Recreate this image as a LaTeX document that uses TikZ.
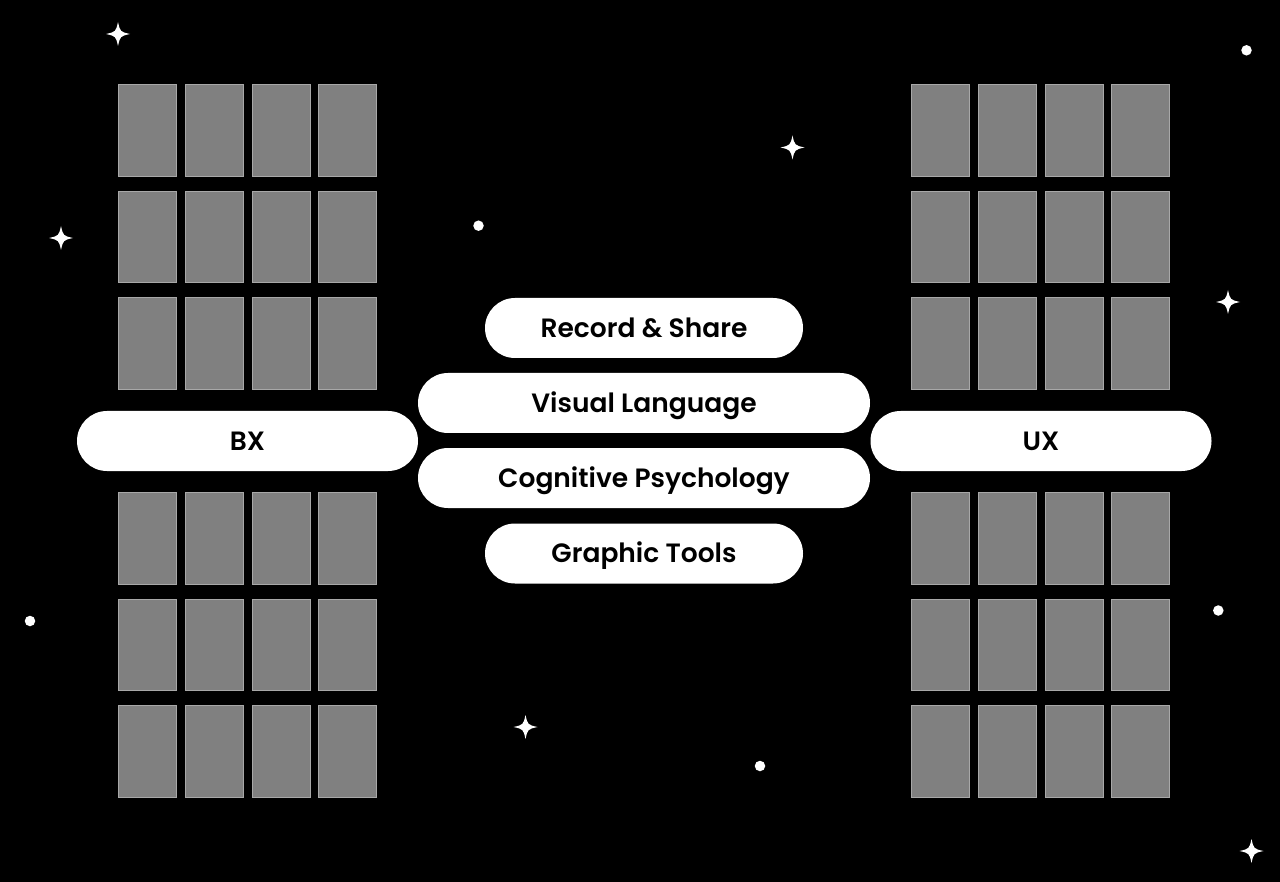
\documentclass[tikz,border=0pt]{standalone}
\usepackage{fontspec}
\setmainfont{Poppins}[BoldFont={Poppins SemiBold}]
\definecolor{panelgray}{HTML}{808080}
\definecolor{panelborder}{HTML}{A8A8A8}
\tikzset{
  sparkle/.pic={\fill[white] (0,-12) .. controls (2.2,-2.2) .. (12,0) .. controls (2.2,2.2) .. (0,12) .. controls (-2.2,2.2) .. (-12,0) .. controls (-2.2,-2.2) .. (0,-12) -- cycle;},
}
\begin{document}
\begin{tikzpicture}[x=1pt,y=-1pt,
  panel/.style={draw=panelborder, line width=0.8pt, fill=panelgray, minimum width=58pt, minimum height=91.5pt, inner sep=0pt, anchor=north west},
  pill/.style={fill=white, rounded corners=30pt, minimum height=60pt, inner sep=0pt, font=\fontsize{26.5}{30}\selectfont\bfseries, text=black, text height=18.5pt, text depth=0pt},
  dot/.style={circle, fill=white, minimum size=10.5pt, inner sep=0pt},
]
\fill[black] (0,0) rectangle (1280,882);
\useasboundingbox (0,0) rectangle (1280,882);
% panels
\foreach \side/\xs in {L/118, R/911}{
  \foreach \c in {0,1,2,3}{
    \foreach \r/\ys in {0/84, 1/190.3, 2/296.7, 3/492, 4/598.3, 5/704.7}{
      \node[panel] (\side-\r-\c) at ({\xs+\c*66.67+0.4},{\ys+0.4}) {};
    }
  }
}
% pills
\node[pill, minimum width=341pt] (bx) at (247.5,441) {BX};
\node[pill, minimum width=341pt] (ux) at (1041,441) {UX};
\node[pill, minimum width=318pt] (rec) at (644,328) {Record \& Share};
\node[pill, minimum width=452pt] (vis) at (644,403) {Visual Language};
\node[pill, minimum width=452pt] (cog) at (644,478) {Cognitive Psychology};
\node[pill, minimum width=318pt] (gra) at (644,553.5) {Graphic Tools};
% stars
\pic at (118,34) {sparkle};
\pic at (61,238) {sparkle};
\pic at (792.5,147.5) {sparkle};
\pic at (1228,302) {sparkle};
\pic at (525.5,727) {sparkle};
\pic at (1251.5,851) {sparkle};
% dots
\node[dot] (d1) at (1246.5,50.3) {};
\node[dot] (d2) at (478.5,225.7) {};
\node[dot] (d3) at (30,621) {};
\node[dot] (d4) at (1218.3,610.5) {};
\node[dot] (d5) at (760,766) {};
\end{tikzpicture}
\end{document}
